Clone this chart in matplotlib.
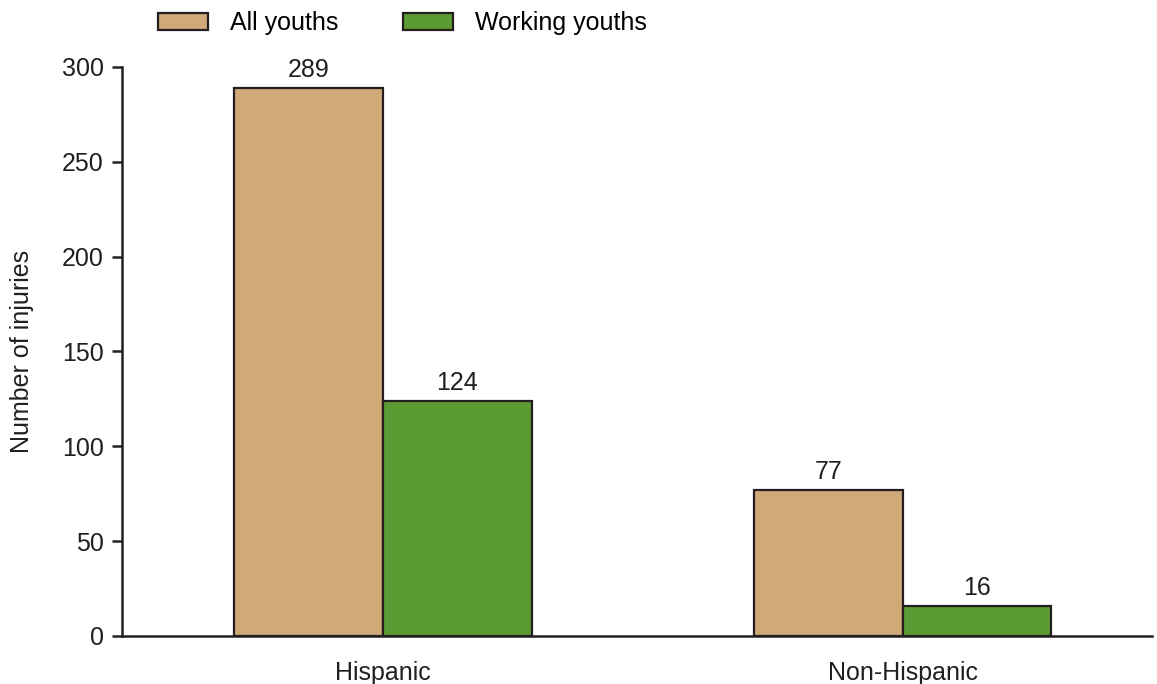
import numpy as np
import matplotlib.pyplot as plt

plt.rcParams['font.family'] = ['Liberation Sans', 'DejaVu Sans']

groups = ['Hispanic', 'Non-Hispanic']
all_youths = [289, 77]
working_youths = [124, 16]
series_names = ['All youths', 'Working youths']

ink = '#231f20'
tan = '#cfa977'
green = '#5c9a33'
fs = 18

fig = plt.figure(figsize=(11.57, 6.84), dpi=100)
ax = fig.add_axes([0.1054, 0.0702, 0.890, 0.832])

x = np.arange(len(groups))
w = 0.286
b1 = ax.bar(x - w / 2, all_youths, w, color=tan, edgecolor=ink, linewidth=1.6, label=series_names[0])
b2 = ax.bar(x + w / 2, working_youths, w, color=green, edgecolor=ink, linewidth=1.6, label=series_names[1])
ax.bar_label(b1, padding=4, fontsize=fs, color=ink)
ax.bar_label(b2, padding=4, fontsize=fs, color=ink)

ax.set_xlim(-0.502, 1.479)
ax.set_ylim(0, 300)
ax.set_yticks([0, 50, 100, 150, 200, 250, 300])
ax.set_xticks(x)
ax.set_xticklabels(groups)

for s in ['top', 'right']:
    ax.spines[s].set_visible(False)
for s in ['left', 'bottom']:
    ax.spines[s].set_linewidth(1.8)
    ax.spines[s].set_color(ink)

ax.tick_params(axis='y', length=7, width=1.8, color=ink, labelsize=fs, labelcolor=ink, pad=6)
ax.tick_params(axis='x', length=0, labelsize=fs, labelcolor=ink, pad=18)
ax.set_ylabel('Number of injuries', fontsize=fs, color=ink, labelpad=20)

fig.legend(loc='center left', bbox_to_anchor=(158 / 1157, 1 - 23 / 684), ncol=2, frameon=False,
           fontsize=fs, handlelength=2.0, handleheight=0.68, handletextpad=0.9,
           columnspacing=2.55, borderpad=0, borderaxespad=0)

fig.savefig('out.png', dpi=100)
